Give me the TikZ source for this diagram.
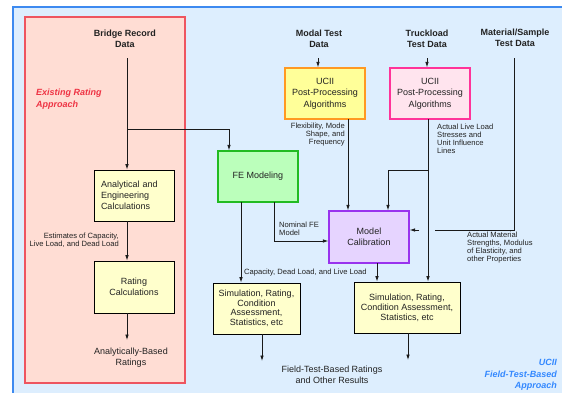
\documentclass[tikz,border=0pt]{standalone}
\usepackage{fontspec}
\setmainfont{Liberation Sans}
\usetikzlibrary{arrows.meta}
\definecolor{bgblue}{HTML}{DDEEFE}
\definecolor{frameblue}{HTML}{3D8AF0}
\definecolor{bgred}{HTML}{FFDDD4}
\definecolor{framered}{HTML}{EE5560}
\definecolor{txtred}{HTML}{EE3344}
\definecolor{txtblue}{HTML}{3388FF}
\definecolor{boxyellow}{HTML}{FFFFCC}
\definecolor{ucyellow}{HTML}{FFFF99}
\definecolor{ucorange}{HTML}{FF9922}
\definecolor{ucpink}{HTML}{FFE4EE}
\definecolor{ucpinkdraw}{HTML}{FF3399}
\definecolor{fegreen}{HTML}{BBFFBB}
\definecolor{fegreendraw}{HTML}{22BB22}
\definecolor{mcpurple}{HTML}{E6D4FF}
\definecolor{mcpurpledraw}{HTML}{9933EE}
\definecolor{txt}{HTML}{222222}
\tikzset{
  hdr/.style={font=\bfseries\fontsize{9}{11}\selectfont, align=center, inner sep=0pt, text=txt},
  lbl/.style={font=\fontsize{7.6}{8}\selectfont, inner sep=0pt, text=txt},
  boxt/.style={font=\fontsize{9}{11}\selectfont, text=txt},
  box/.style={boxt, draw=black, line width=0.9pt, minimum width=80pt, minimum height=51pt, align=center, inner sep=2pt},
  conn/.style={draw=black!90, line width=0.8pt},
  arr/.style={conn, -{Latex[length=5.5pt,width=3.6pt]}},
}
\begin{document}
\begin{tikzpicture}[x=1pt,y=-1pt]
\useasboundingbox (0,0) rectangle (562,392);
\clip (0,0) rectangle (562,392);
\fill[white] (0,0) rectangle (562,392);
\draw[fill=bgblue, draw=frameblue, line width=1.4pt] (13,7) rectangle (590,420);
\draw[fill=bgred, draw=framered, line width=1.4pt] (25,17) rectangle (185,383);

% headers
\node[hdr] (bridge) at (125,38.5) {Bridge Record\\Data};
\node[hdr] (modal) at (319,38.5) {Modal Test\\Data};
\node[hdr] (truck) at (427,38.5) {Truckload\\Test Data};
\node[hdr] (mat) at (515,37.5) {Material/Sample\\Test Data};

\node[font=\bfseries\itshape\fontsize{9}{12}\selectfont, text=txtred, align=left, anchor=west, inner sep=0pt] (exist) at (36,99) {Existing Rating\\Approach};
\node[font=\bfseries\itshape\fontsize{9}{11.5}\selectfont, text=txtblue, align=right, anchor=east, inner sep=0pt] (ucfield) at (557,375) {UCII\\Field-Test-Based\\Approach};

% boxes
\node[box, fill=boxyellow, text width=66pt, inner xsep=7pt, align=left] (anal) at (134,195.5) {Analytical and\\Engineering\\Calculations};
\node[box, fill=boxyellow, minimum height=52pt] (rate) at (134,287) {Rating\\Calculations};
\node[box, fill=fegreen, draw=fegreendraw, line width=1.3pt] (fe) at (258,176.5) {FE Modeling};
\node[box, fill=mcpurple, draw=mcpurpledraw, line width=1.3pt, minimum height=52pt] (mc) at (369,237) {Model\\Calibration};
\node[box, fill=ucyellow, draw=ucorange, line width=1.3pt, font=\fontsize{9}{11.3}\selectfont] (uc1) at (325,93.5) {UCII\\Post-Processing\\Algorithms};
\node[box, fill=ucpink, draw=ucpinkdraw, line width=1.3pt, font=\fontsize{9}{11.3}\selectfont] (uc2) at (430,93.5) {UCII\\Post-Processing\\Algorithms};
\node[box, fill=boxyellow, minimum width=87pt, font=\fontsize{9}{9.5}\selectfont] (simL) at (256.5,308.5) {Simulation, Rating,\\Condition\\Assessment,\\Statistics, etc};
\node[box, fill=boxyellow, minimum width=106pt, font=\fontsize{9}{10}\selectfont] (simR) at (407,307.5) {Simulation, Rating,\\Condition Assessment,\\Statistics, etc};

% result texts
\node[boxt, align=center, inner sep=0pt] (anres) at (131,358) {Analytically-Based\\Ratings};
\node[boxt, align=center, inner sep=0pt] (fres) at (332,374.5) {Field-Test-Based Ratings\\and Other Results};

% labels
\node[lbl, align=right, anchor=east] (l1) at (119,240) {Estimates of Capacity,\\Live Load, and Dead Load};
\node[lbl, align=right, anchor=east] (l2) at (345,134.5) {Flexibility, Mode\\Shape, and\\Frequency};
\node[lbl, align=left, anchor=west] (l3) at (437,139) {Actual Live Load\\Stresses and\\Unit Influence\\Lines};
\node[lbl, align=left, anchor=west] (l4) at (279,228.5) {Nominal FE\\Model};
\node[lbl, anchor=west] (l5) at (244,272.5) {Capacity, Dead Load, and Live Load};
\node[lbl, align=left, anchor=west] (l6) at (467,247.5) {Actual Material\\Strengths, Modulus\\of Elasticity, and\\other Properties};

% connector coordinates
\coordinate (bA) at (127,58);
\coordinate (bB) at (127,129);
\coordinate (feIn) at (229,129);
\coordinate (mA) at (318,58);
\coordinate (tA) at (427,58);
\coordinate (uc1o) at (348,119);
\coordinate (uc2o) at (428,119);
\coordinate (uc2b) at (428,170);
\coordinate (mcIn2) at (388,170);
\coordinate (matA) at (514,58);
\coordinate (matB) at (514,230);
\coordinate (matC) at (435,230);
\coordinate (matD) at (419,230);
\coordinate (feo1) at (241,202);
\coordinate (feo2) at (274,202);
\coordinate (feo2b) at (274,241);
\coordinate (mco) at (377,263);
\coordinate (anres0) at (127,340);
\coordinate (fresL) at (262,361);
\coordinate (fresR) at (408,360);

% connectors
\draw[arr] (bA) -- (anal.north -| bA);
\draw[arr] (bB) -- (feIn) -- (fe.north -| feIn);
\draw[arr] (anal.south -| bA) -- (rate.north -| bA);
\draw[arr] (rate.south -| bA) -- (anres0);
\draw[arr] (mA) -- (uc1.north -| mA);
\draw[arr] (tA) -- (uc2.north -| tA);
\draw[arr] (uc1o) -- (mc.north -| uc1o);
\draw[arr] (uc2o) -- (simR.north -| uc2o);
\draw[arr] (uc2b) -- (mcIn2) -- (mc.north -| mcIn2);
\draw[conn] (matA) -- (matB) -- (matC);
\draw[arr] (matD) -- (mc.east |- matD);
\draw[arr] (feo1) -- (simL.north -| feo1);
\draw[arr] (feo2) -- (feo2b) -- (mc.west |- feo2b);
\draw[arr] (mco) -- (simR.north -| mco);
\draw[arr] (simL.south -| fresL) -- (fresL);
\draw[arr] (simR.south -| fresR) -- (fresR);
\end{tikzpicture}
\end{document}
